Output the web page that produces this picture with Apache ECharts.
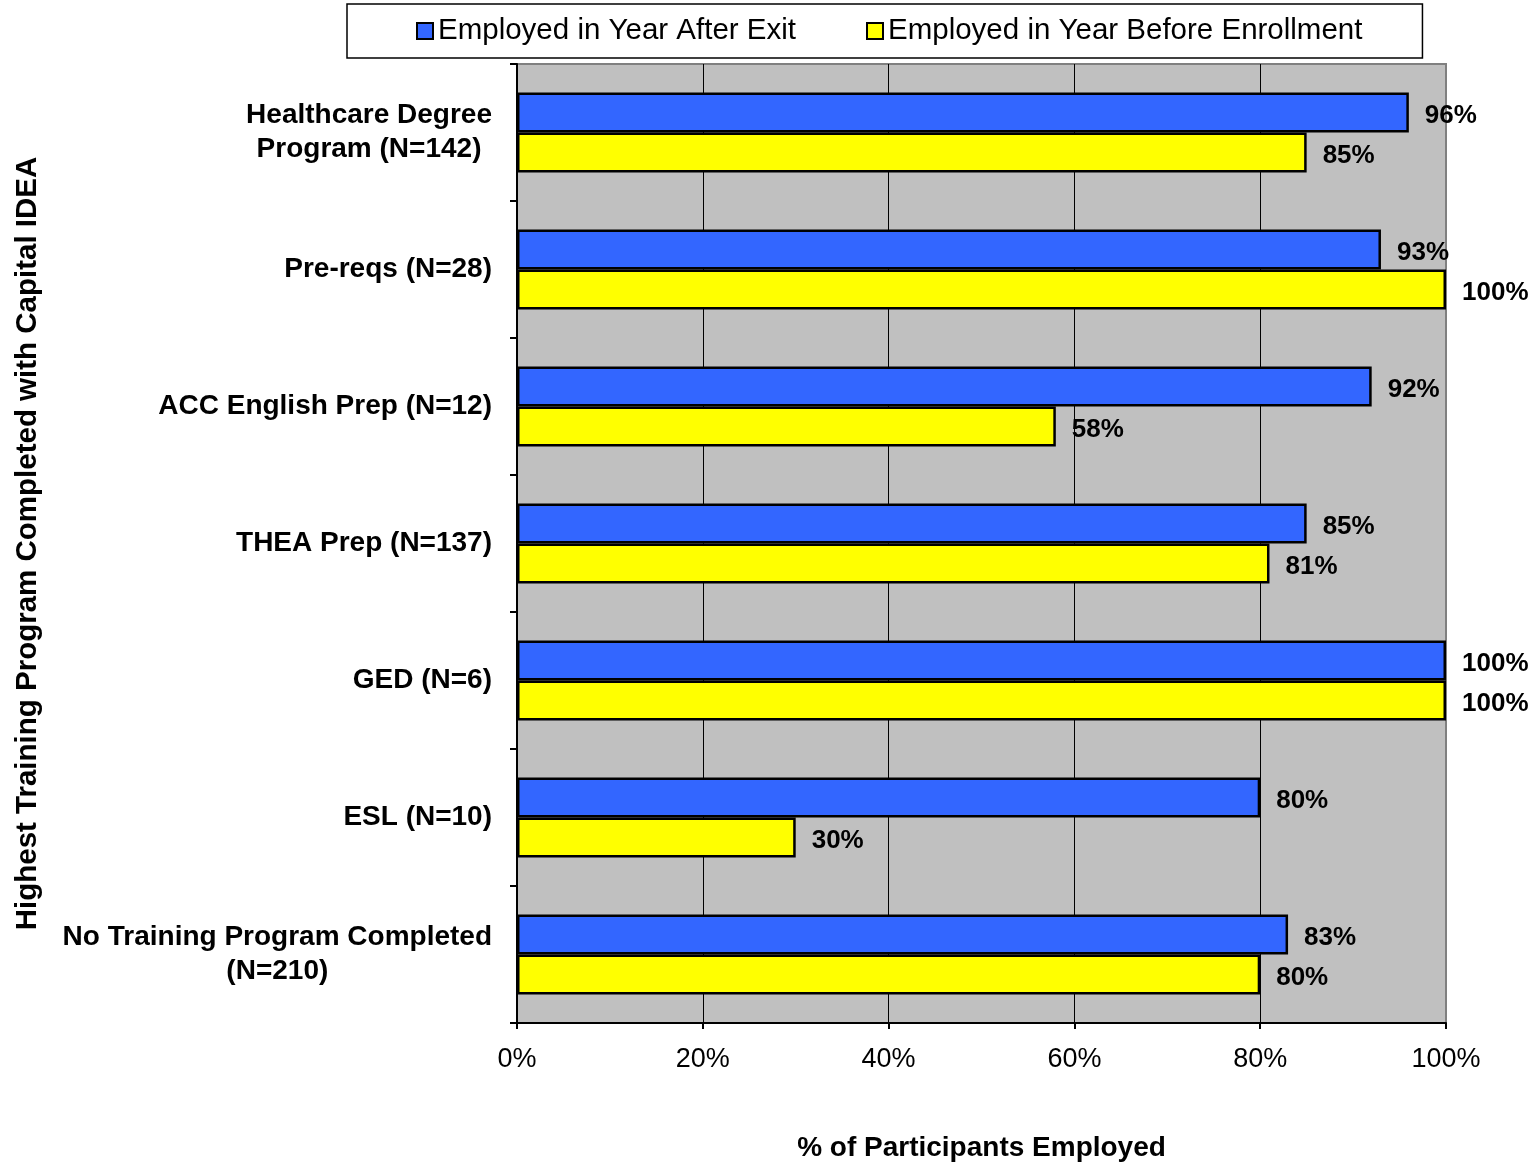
<!DOCTYPE html>
<html>
<head>
<meta charset="utf-8">
<script src="https://cdn.jsdelivr.net/npm/echarts@6/dist/echarts.min.js"></script>
<style>
  html, body { margin: 0; padding: 0; background: #ffffff; }
  #chart { width: 1535px; height: 1164px; }
</style>
</head>
<body>
<div id="chart"></div>
<script>
// Training programs, top to bottom
const categories = [
  'Healthcare Degree\nProgram (N=142)',
  'Pre-reqs (N=28)',
  'ACC English Prep (N=12)',
  'THEA Prep (N=137)',
  'GED (N=6)',
  'ESL (N=10)',
  'No Training Program Completed\n(N=210)'
];
// Percent employed
const employedAfterExit = [96, 93, 92, 85, 100, 80, 83];
const employedBeforeEnrollment = [85, 100, 58, 81, 100, 30, 80];
const seriesNames = ['Employed in Year After Exit', 'Employed in Year Before Enrollment'];
const xTicks = { min: 0, max: 100, interval: 20 };

const FONT = '"Liberation Sans", Arial, Helvetica, sans-serif';

const chart = echarts.init(document.getElementById('chart'), null, { renderer: 'canvas' });

function barSeries(name, data, color) {
  return {
    name: name,
    type: 'bar',
    data: data,
    barGap: '0%',
    barCategoryGap: '41.6%',
    itemStyle: { color: color, borderColor: '#000000', borderWidth: 2.5 },
    label: {
      show: true,
      position: 'right',
      distance: 16,
      offset: [0, 3],
      formatter: '{c}%',
      fontFamily: FONT,
      fontSize: 26,
      fontWeight: 'bold',
      color: '#000000'
    },
    emphasis: { disabled: true },
    animation: false
  };
}

chart.setOption({
  animation: false,
  textStyle: { fontFamily: FONT },
  legend: {
    left: 347,
    top: 4,
    padding: [12, 60, 12, 69],
    itemGap: 70,
    itemWidth: 16,
    itemHeight: 16,
    icon: 'rect',
    backgroundColor: '#ffffff',
    borderColor: '#000000',
    borderWidth: 1.5,
    borderRadius: 0,
    itemStyle: { borderColor: '#000000', borderWidth: 2 },
    textStyle: { fontFamily: FONT, fontSize: 29.5, color: '#000000' },
    data: seriesNames
  },
  grid: {
    left: 517,
    right: 89,
    top: 64,
    bottom: 141,
    containLabel: false,
    outerBoundsMode: 'none',
    show: true,
    backgroundColor: '#c0c0c0',
    borderColor: '#808080',
    borderWidth: 2
  },
  xAxis: {
    type: 'value',
    min: xTicks.min,
    max: xTicks.max,
    interval: xTicks.interval,
    name: '% of Participants Employed',
    nameLocation: 'middle',
    nameGap: 111,
    nameTextStyle: { fontFamily: FONT, fontSize: 28, fontWeight: 'bold', color: '#000000' },
    axisLine: { show: true, lineStyle: { color: '#000000', width: 2 } },
    axisTick: { show: true, inside: false, length: 6, lineStyle: { color: '#000000', width: 2 } },
    axisLabel: {
      formatter: '{value}%',
      margin: 23,
      fontFamily: FONT,
      fontSize: 27,
      color: '#000000'
    },
    splitLine: {
      show: true,
      showMinLine: false,
      showMaxLine: false,
      lineStyle: { color: '#000000', width: 1 }
    }
  },
  yAxis: {
    type: 'category',
    data: categories,
    inverse: true,
    name: 'Highest Training Program Completed with Capital IDEA',
    nameLocation: 'middle',
    nameRotate: 90,
    nameGap: 474,
    nameTextStyle: { fontFamily: FONT, fontSize: 29.5, fontWeight: 'bold', color: '#000000' },
    axisLine: { show: true, lineStyle: { color: '#000000', width: 2 } },
    axisTick: { show: true, inside: false, length: 7, alignWithLabel: false, lineStyle: { color: '#000000', width: 2 } },
    axisLabel: {
      margin: 25,
      formatter: function (v) {
        return v.split('\n').map(function (l) { return '{c|' + l + '}'; }).join('\n');
      },
      rich: {
        c: {
          fontFamily: FONT,
          fontSize: 28,
          fontWeight: 'bold',
          color: '#000000',
          align: 'center',
          lineHeight: 34
        }
      }
    },
    splitLine: { show: false }
  },
  series: [
    barSeries(seriesNames[0], employedAfterExit, '#3366ff'),
    barSeries(seriesNames[1], employedBeforeEnrollment, '#ffff00')
  ]
});
</script>
</body>
</html>
